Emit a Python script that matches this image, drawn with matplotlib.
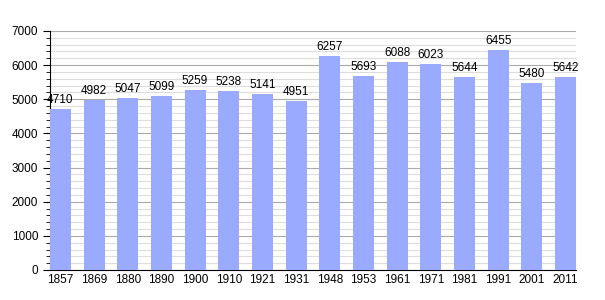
import matplotlib.pyplot as plt
from matplotlib.ticker import MultipleLocator

plt.rcParams['font.family'] = ['Liberation Sans', 'DejaVu Sans']

years = ['1857', '1869', '1880', '1890', '1900', '1910', '1921', '1931',
         '1948', '1953', '1961', '1971', '1981', '1991', '2001', '2011']
population = [4710, 4982, 5047, 5099, 5259, 5238, 5141, 4951,
              6257, 5693, 6088, 6023, 5644, 6455, 5480, 5642]

fig = plt.figure(figsize=(6.05, 3.0), dpi=100)
ax = fig.add_axes([0.0826, 0.1, 0.8694, 0.7967])

x = range(len(years))
w = 0.62
ax.bar(x, population, width=w, color='#99aaff', zorder=3)
for i, v in zip(x, population):
  ax.text(i, v + 90, str(v), ha='center', va='bottom', fontsize=8.5, zorder=4)

ax.set_xlim(-w / 2, len(years) - 1 + w / 2)
ax.set_ylim(0, 7000)
ax.set_xticks(list(x))
ax.set_xticklabels(years, fontsize=8.5)
ax.yaxis.set_major_locator(MultipleLocator(1000))
ax.yaxis.set_minor_locator(MultipleLocator(200))
ax.tick_params(axis='y', labelsize=8.5, length=5)
ax.tick_params(axis='y', which='minor', length=3)
ax.tick_params(axis='x', length=0, pad=3)
ax.grid(axis='y', which='major', color='#aaaaaa', linewidth=0.8, zorder=0)
ax.grid(axis='y', which='minor', color='#dddddd', linewidth=0.8, zorder=0)
for s in ['top', 'right']:
  ax.spines[s].set_visible(False)

plt.savefig('out.png', dpi=100)
